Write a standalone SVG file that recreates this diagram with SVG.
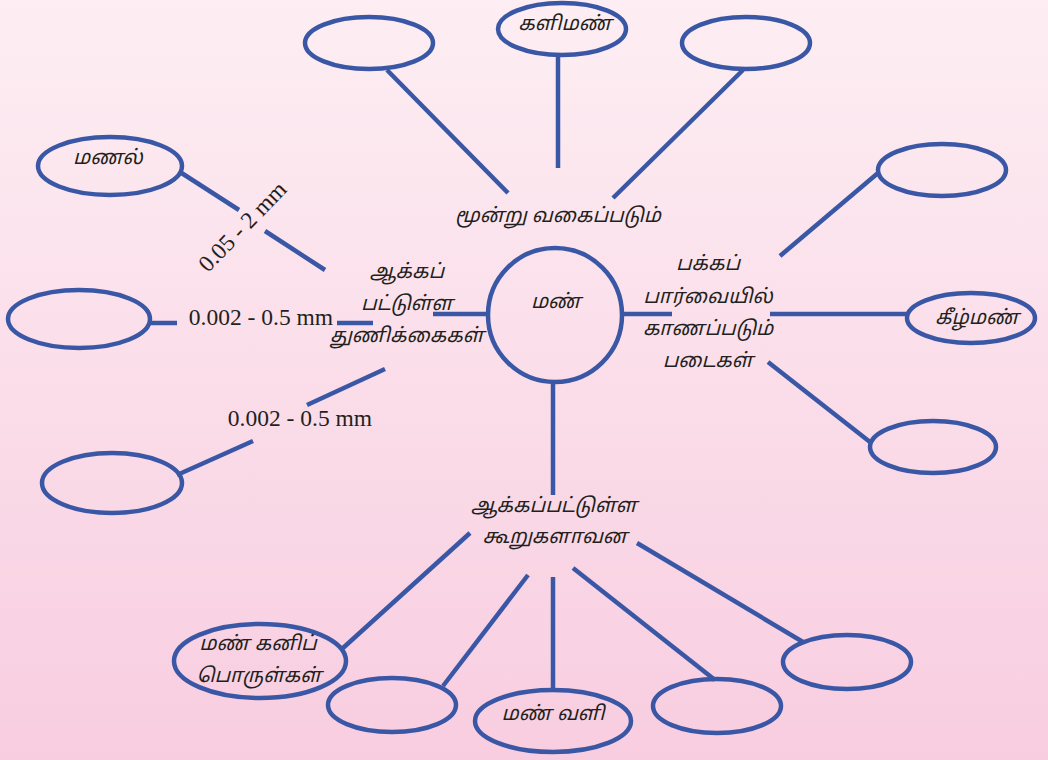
<svg xmlns="http://www.w3.org/2000/svg" width="1048" height="760" viewBox="0 0 1048 760">
  <defs>
    <linearGradient id="bg" x1="0" y1="0" x2="0" y2="1">
      <stop offset="0" stop-color="#fdeef3"/>
      <stop offset="1" stop-color="#f8cde0"/>
    </linearGradient>
  </defs>
  <style>
    .sh { fill: none; stroke: #3a57a6; stroke-width: 4.5; }
    .ln { stroke: #3a57a6; stroke-width: 4.5; fill: none; }
    .ta { font-family: "Noto Sans Tamil", "Latha", "Noto Sans", "DejaVu Sans", sans-serif; font-size: 20px; font-style: italic; fill: #231f20; text-anchor: middle; }
    .nm { font-family: "Liberation Serif", "Times New Roman", serif; font-size: 23.5px; fill: #231f20; text-anchor: middle; }
  </style>
  <rect x="0" y="0" width="1048" height="760" fill="url(#bg)"/>

  <g id="connectors">
    <line class="ln" x1="387" y1="70" x2="508" y2="193"/>
    <line class="ln" x1="558" y1="55" x2="558" y2="168"/>
    <line class="ln" x1="743" y1="70" x2="613" y2="198"/>
    <line class="ln" x1="180" y1="172" x2="239" y2="210"/>
    <line class="ln" x1="265" y1="231" x2="325" y2="270"/>
    <line class="ln" x1="150" y1="323" x2="177" y2="323"/>
    <line class="ln" x1="337" y1="323" x2="373" y2="323"/>
    <line class="ln" x1="433" y1="314" x2="488" y2="314"/>
    <line class="ln" x1="385" y1="369" x2="307" y2="405"/>
    <line class="ln" x1="253" y1="441" x2="177" y2="475"/>
    <line class="ln" x1="622" y1="314" x2="672" y2="314"/>
    <line class="ln" x1="770" y1="314" x2="907" y2="314"/>
    <line class="ln" x1="780" y1="256" x2="878" y2="173"/>
    <line class="ln" x1="768" y1="362" x2="870" y2="442"/>
    <line class="ln" x1="553" y1="382" x2="553" y2="495"/>
    <line class="ln" x1="553" y1="577" x2="553" y2="690"/>
    <line class="ln" x1="470" y1="533" x2="343" y2="648"/>
    <line class="ln" x1="528" y1="575" x2="443" y2="686"/>
    <line class="ln" x1="573" y1="568" x2="715" y2="680"/>
    <line class="ln" x1="637" y1="543" x2="803" y2="642"/>
  </g>

  <g id="center">
    <circle class="sh" cx="555" cy="315" r="67"/>
    <text class="ta" x="556" y="308">மண்</text>
  </g>

  <g id="hub-top">
    <text class="ta" x="558" y="222">மூன்று வகைப்படும்</text>
  </g>
  <g id="hub-left">
    <text class="ta" x="407" y="278">ஆக்கப்</text>
    <text class="ta" x="407" y="310">பட்டுள்ள</text>
    <text class="ta" x="407" y="342">துணிக்கைகள்</text>
  </g>
  <g id="hub-right">
    <text class="ta" x="708" y="270">பக்கப்</text>
    <text class="ta" x="708" y="303">பார்வையில்</text>
    <text class="ta" x="708" y="335">காணப்படும்</text>
    <text class="ta" x="708" y="367">படைகள்</text>
  </g>
  <g id="hub-bottom">
    <text class="ta" x="554" y="512">ஆக்கப்பட்டுள்ள</text>
    <text class="ta" x="555" y="543">கூறுகளாவன</text>
  </g>

  <g id="labels">
    <text class="nm" transform="translate(248,232) rotate(-46)" x="0" y="0">0.05 - 2 mm</text>
    <text class="nm" x="261" y="325">0.002 - 0.5 mm</text>
    <text class="nm" x="300" y="426">0.002 - 0.5 mm</text>
  </g>

  <g id="node-top-left"><ellipse class="sh" cx="369" cy="43" rx="64" ry="26"/></g>
  <g id="node-clay"><ellipse class="sh" cx="562" cy="29" rx="64" ry="26"/><text class="ta" x="565" y="30">களிமண்</text></g>
  <g id="node-top-right"><ellipse class="sh" cx="746" cy="43" rx="64" ry="26"/></g>

  <g id="node-sand"><ellipse class="sh" cx="110" cy="166" rx="72" ry="29"/><text class="ta" x="108" y="164">மணல்</text></g>
  <g id="node-mid-left"><ellipse class="sh" cx="79" cy="319" rx="71" ry="29"/></g>
  <g id="node-low-left"><ellipse class="sh" cx="112" cy="483" rx="70" ry="30"/></g>

  <g id="node-right-top"><ellipse class="sh" cx="942" cy="170" rx="64" ry="26"/></g>
  <g id="node-subsoil"><ellipse class="sh" cx="971" cy="318" rx="64" ry="25"/><text class="ta" x="977" y="324">கீழ்மண்</text></g>
  <g id="node-right-low"><ellipse class="sh" cx="933" cy="447" rx="63" ry="26"/></g>

  <g id="node-minerals"><ellipse class="sh" cx="260" cy="661" rx="86" ry="37"/><text class="ta" x="258" y="650">மண் கனிப்</text><text class="ta" x="259" y="682">பொருள்கள்</text></g>
  <g id="node-b2"><ellipse class="sh" cx="392" cy="705" rx="64" ry="27"/></g>
  <g id="node-air"><ellipse class="sh" cx="553" cy="721" rx="78" ry="31"/><text class="ta" x="553" y="720">மண் வளி</text></g>
  <g id="node-b4"><ellipse class="sh" cx="717" cy="706" rx="64" ry="27"/></g>
  <g id="node-b5"><ellipse class="sh" cx="847" cy="662" rx="64" ry="27"/></g>
</svg>
